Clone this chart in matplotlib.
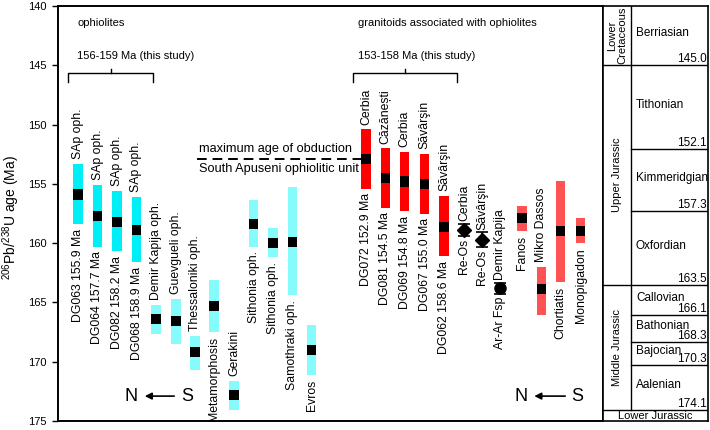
import numpy as np
from matplotlib import pyplot as plt

plt.rcParams['font.family'] = ['Liberation Sans', 'DejaVu Sans']
plt.rcParams['mathtext.default'] = 'regular'

# ophiolites: position, age range (young, old), mean age, labels
oph_x = [20, 39.5, 59, 78.5, 98, 118, 137, 156, 176, 195.5, 215, 234.5, 253.5]
oph_lo = [153.3, 155.1, 155.6, 156.1, 165.2, 164.7, 167.8, 163.1, 171.6, 156.4, 158.7, 155.3, 166.9]
oph_hi = [158.4, 160.3, 160.7, 161.6, 167.7, 168.5, 170.7, 167.5, 174.1, 160.3, 161.2, 164.4, 171.1]
oph_age = [155.9, 157.7, 158.2, 158.9, 166.4, 166.6, 169.2, 165.3, 172.8, 158.4, 160.0, 159.9, 169.0]
oph_study = [True, True, True, True] + [False] * 9
oph_top = ['SAp oph.', 'SAp oph.', 'SAp oph.', 'SAp oph.', 'Demir Kapija oph.', 'Guevgueli oph.',
           'Thessaloniki oph.', '', 'Gerakini', '', '', '', '']
oph_bot = ['DG063 155.9 Ma', 'DG064 157.7 Ma', 'DG082 158.2 Ma', 'DG068 158.9 Ma', '', '', '',
           'Metamorphosis', '', 'Sithonia oph.', 'Sithonia oph.', 'Samothraki oph.', 'Evros']

# granitoids
gr_x = [308, 327.5, 346.5, 366.5, 386, 464, 483.5, 502.5, 522.5]
gr_lo = [150.4, 152.0, 152.3, 152.5, 156.0, 156.9, 162.0, 154.8, 157.9]
gr_hi = [155.4, 157.0, 157.3, 157.5, 161.1, 159.0, 166.1, 163.3, 160.0]
gr_age = [152.9, 154.5, 154.8, 155.0, 158.6, 157.9, 163.9, 159.0, 159.0]
gr_study = [True] * 5 + [False] * 4
gr_top = ['Cerbia', 'Căzănești', 'Cerbia', 'Săvârşin', 'Săvârşin', '', 'Mikro Dassos', '', '']
gr_bot = ['DG072 152.9 Ma', 'DG081 154.5 Ma', 'DG069 154.8 Ma', 'DG067 155.0 Ma', 'DG062 158.6 Ma',
          'Fanos', '', 'Chortiatis', 'Monopigadon']

# single ages with error (Re-Os, Ar-Ar)
pt_x = [406, 424, 442]
pt_age = [158.9, 159.7, 163.8]
pt_err = [0.5, 0.6, 0.45]
pt_marker = ['D', 'D', 'o']
pt_top = ['Cerbia', 'Săvârşin', 'Demir Kapija']
pt_bot = ['Re-Os', 'Re-Os', 'Ar-Ar Fsp']

# stratigraphic column
stages = ['Berriasian', 'Tithonian', 'Kimmeridgian', 'Oxfordian', 'Callovian',
          'Bathonian', 'Bajocian', 'Aalenian']
stage_bounds = [140.0, 145.0, 152.1, 157.3, 163.5, 166.1, 168.3, 170.3, 174.1]
epochs = ['Lower\nCretaceous', 'Upper Jurassic', 'Middle Jurassic']
epoch_bounds = [140.0, 145.0, 163.5, 174.1]

fig = plt.figure(figsize=(7.1, 4.3), dpi=100)
W, H = 710, 430
ax = fig.add_axes([58 / W, 9 / H, 545 / W, 415 / H])
ax.set_xlim(0, 545)
ax.set_ylim(175, 140)

bw = 9.5
gap = 0.4
fs = 8.8


def draw_bars(xs, lo, hi, ages, study, top, bot, c_study, c_lit):
    for x, l, h, a, s, t, b in zip(xs, lo, hi, ages, study, top, bot):
        ax.bar(x, h - l, bottom=l, width=bw, color=c_study if s else c_lit, lw=0)
        ax.bar(x, 0.85, bottom=a - 0.425, width=bw, color='black', lw=0)
        if t:
            ax.text(x, l - gap, t, rotation=90, ha='center', va='bottom', fontsize=fs)
        if b:
            ax.text(x, h + gap, b, rotation=90, ha='center', va='top', fontsize=fs)


draw_bars(oph_x, oph_lo, oph_hi, oph_age, oph_study, oph_top, oph_bot, '#00eef6', '#85fbfb')
draw_bars(gr_x, gr_lo, gr_hi, gr_age, gr_study, gr_top, gr_bot, '#ff0000', '#ff5252')

for x, a, e, m, t, b in zip(pt_x, pt_age, pt_err, pt_marker, pt_top, pt_bot):
    ax.errorbar(x, a, yerr=e, fmt=m, color='black', ms=7 if m == 'D' else 8,
                capsize=4, elinewidth=1.2, capthick=1.2)
    ax.text(x, a - e - 0.25, t, rotation=90, ha='center', va='bottom', fontsize=fs)
    ax.text(x, a + e + 0.25, b, rotation=90, ha='center', va='top', fontsize=fs)

# maximum age of obduction
ax.plot([139, gr_x[0]], [gr_age[0], gr_age[0]], color='black', lw=1.4, ls=(0, (5, 3)))
ax.text(141, gr_age[0] - 0.3, 'maximum age of obduction', fontsize=9.2, va='bottom')
ax.text(141, gr_age[0] + 0.3, 'South Apuseni ophiolitic unit', fontsize=9.2, va='top')

# group headings and brackets
ax.text(19, 141.4, 'ophiolites', fontsize=8, va='center')
ax.text(19, 144.2, '156-159 Ma (this study)', fontsize=8, va='center')
ax.text(300, 141.4, 'granitoids associated with ophiolites', fontsize=8, va='center')
ax.text(300, 144.2, '153-158 Ma (this study)', fontsize=8, va='center')
for x0, x1 in [(10, 95), (295, 399)]:
    ax.plot([x0, x0, x1, x1], [146.4, 145.65, 145.65, 146.4], color='black', lw=1)
    xm = (x0 + x1) / 2
    ax.plot([xm, xm], [145.65, 145.3], color='black', lw=1)

# N <- S
for xn, xa0, xa1, xs in [(73.5, 84, 119, 129), (463.5, 473.5, 510, 519)]:
    ax.text(xn, 172.9, 'N', fontsize=13, ha='center', va='center')
    ax.text(xs, 172.9, 'S', fontsize=13, ha='center', va='center')
    ax.annotate('', xy=(xa0, 172.9), xytext=(xa1, 172.9),
                arrowprops=dict(arrowstyle='-|>', color='black', lw=1.2, mutation_scale=10))

ax.set_yticks(np.arange(140, 176, 5))
ax.set_xticks([])
ax.tick_params(axis='y', direction='out', length=4, width=1, labelsize=8, pad=4)
for s in ax.spines.values():
    s.set_linewidth(1.4)
fig.text(11 / W, 1 - 218 / H, '$^{206}$Pb/$^{238}$U age (Ma)', fontsize=10,
         rotation=90, ha='center', va='center')

# stratigraphic column
sx = fig.add_axes([603 / W, 9 / H, 105 / W, 415 / H])
sx.set_xlim(0, 105)
sx.set_ylim(175, 140)
sx.set_xticks([])
sx.set_yticks([])
for s in sx.spines.values():
    s.set_linewidth(1.2)
sx.plot([28, 28], [140, epoch_bounds[-1]], color='black', lw=1)
for b in stage_bounds[1:]:
    x0 = 0 if b in epoch_bounds else 28
    sx.plot([x0, 105], [b, b], color='black', lw=1)
for i, st in enumerate(stages):
    yc = (stage_bounds[i] + stage_bounds[i + 1]) / 2 - 0.2
    sx.text(33, yc, st, fontsize=8.5, va='center')
    sx.text(104, stage_bounds[i + 1], f'{stage_bounds[i + 1]:.1f}', fontsize=8.5,
            ha='right', va='bottom')
for i, ep in enumerate(epochs):
    yc = (epoch_bounds[i] + epoch_bounds[i + 1]) / 2
    sx.text(14, yc, ep, fontsize=8, rotation=90, ha='center', va='center', linespacing=1.0)
sx.text(52.5, 174.55, 'Lower Jurassic', fontsize=8, ha='center', va='center')

fig.savefig('out.png', dpi=100)
